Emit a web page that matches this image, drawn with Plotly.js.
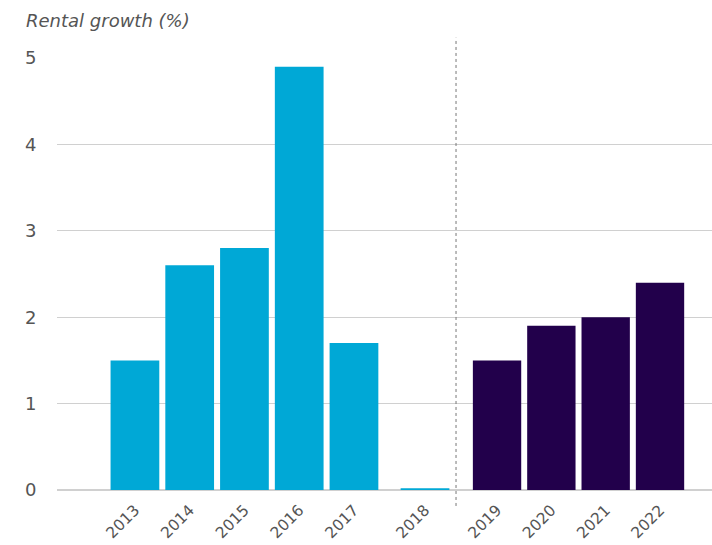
<!DOCTYPE html>
<html>
<head>
<meta charset="utf-8">
<script src="https://cdn.plot.ly/plotly-3.0.1.min.js"></script>
<style>html,body{margin:0;padding:0;background:#fff;}#chart{width:712px;height:545px;}</style>
</head>
<body>
<div id="chart"></div>
<script>
// Data
const historicYears = ["2013", "2014", "2015", "2016", "2017"];
const historicGrowth = [1.5, 2.6, 2.8, 4.9, 1.7];
const currentYear = ["2018"];
const currentGrowth = [0.02];
const forecastYears = ["2019", "2020", "2021", "2022"];
const forecastGrowth = [1.5, 1.9, 2.0, 2.4];
const yTicks = [0, 1, 2, 3, 4, 5];
const titleText = "Rental growth (%)";

const cyan = "#00A8D6";
const purple = "#22004B";
const textGrey = "#555555";
const gridGrey = "#d0d0d0";
const fontFam = "'DejaVu Sans', 'Open Sans', sans-serif";

const barW = 0.89;
const traces = [
  {type: "bar", x: historicYears, y: historicGrowth, xaxis: "x", yaxis: "y",
   marker: {color: cyan}, width: barW, hoverinfo: "x+y"},
  {type: "bar", x: currentYear, y: currentGrowth, xaxis: "x2", yaxis: "y",
   marker: {color: cyan}, width: barW, hoverinfo: "x+y"},
  {type: "bar", x: forecastYears, y: forecastGrowth, xaxis: "x3", yaxis: "y",
   marker: {color: purple}, width: barW, hoverinfo: "x+y"}
];

const xCommon = {
  type: "category", showgrid: false, zeroline: false, showline: false,
  ticks: "outside", ticklen: 4, tickcolor: "rgba(0,0,0,0)", tickangle: -45, fixedrange: true,
  tickfont: {family: fontFam, size: 15.5, color: textGrey}
};

const layout = {
  width: 712, height: 545,
  margin: {l: 57, r: 0, t: 58, b: 55},
  paper_bgcolor: "#ffffff", plot_bgcolor: "#ffffff",
  showlegend: false,
  bargap: 0.11,
  title: {
    text: titleText, xref: "container", yref: "container",
    x: 26 / 712, xanchor: "left", y: 1 - 21 / 545, yanchor: "middle",
    font: {family: fontFam, size: 18, color: textGrey, style: "italic"}
  },
  xaxis: Object.assign({}, xCommon, {domain: [0, 0.5084], range: [-1.423, 4.658], anchor: "y"}),
  xaxis2: Object.assign({}, xCommon, {domain: [0.5084, 0.6092], range: [-0.639, 0.566], anchor: "y"}),
  xaxis3: Object.assign({}, xCommon, {domain: [0.6092, 1], range: [-0.755, 3.957], anchor: "y"}),
  yaxis: {
    range: [0, 5], tickvals: yTicks, showgrid: true, gridcolor: gridGrey, gridwidth: 1,
    zeroline: true, zerolinecolor: gridGrey, zerolinewidth: 1.5, showline: false,
    ticks: "outside", ticklen: 16, tickcolor: "rgba(0,0,0,0)", fixedrange: true,
    tickfont: {family: fontFam, size: 18, color: textGrey}
  },
  shapes: [{
    type: "line", xref: "paper", yref: "paper",
    x0: 0.6092, x1: 0.6092, y0: -0.037, y1: 1.047,
    line: {color: "#777777", width: 1, dash: "dot"}
  }]
};

Plotly.newPlot("chart", traces, layout, {displayModeBar: false, staticPlot: true});
</script>
</body>
</html>
